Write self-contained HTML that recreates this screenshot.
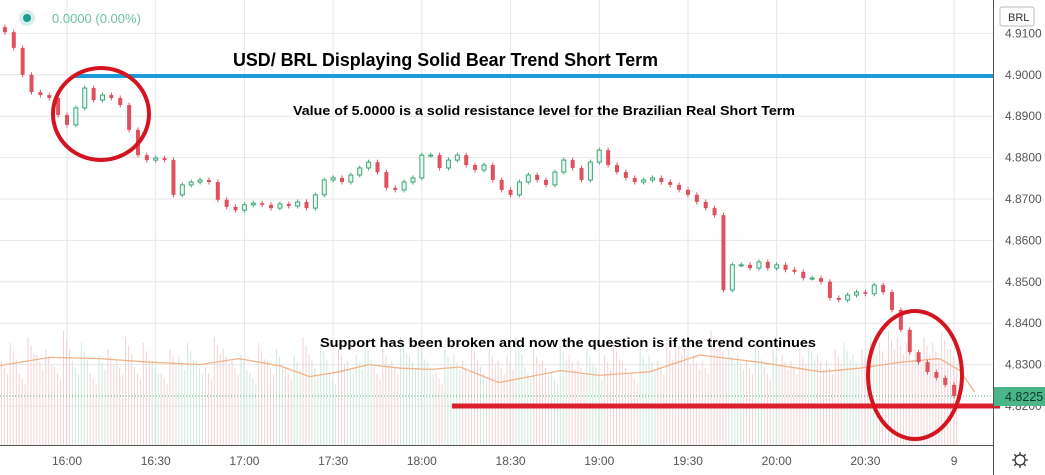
<!DOCTYPE html>
<html><head><meta charset="utf-8">
<style>
html,body{margin:0;padding:0;background:#fff;}
svg{display:block;font-family:"Liberation Sans",sans-serif;}
</style></head>
<body>
<svg id="chart" width="1045" height="475" viewBox="0 0 1045 475">
  <g id="grid"></g>
  <g id="volume"></g>
  <polyline id="ma" fill="none" stroke="#f0b48a" stroke-width="1.3"/>
  <g id="candles"></g>
  <line x1="0" y1="396" x2="993" y2="396" stroke="#4caf7d" stroke-width="1" stroke-dasharray="1,2"/>
  <line x1="75" y1="76" x2="998" y2="76" stroke="#1a9ad6" stroke-width="4"/>
  <line x1="452" y1="406" x2="1000" y2="406" stroke="#dd1f2c" stroke-width="5"/>
  <ellipse cx="101" cy="114" rx="48" ry="46" fill="none" stroke="#d4141f" stroke-width="4"/>
  <ellipse cx="915" cy="375" rx="47" ry="64" fill="none" stroke="#d4141f" stroke-width="4"/>
  <text x="233" y="66" font-size="18" font-weight="bold" textLength="425" lengthAdjust="spacingAndGlyphs">USD/ BRL Displaying Solid Bear Trend Short Term</text>
  <text x="293" y="115" font-size="13" font-weight="bold" textLength="502" lengthAdjust="spacingAndGlyphs">Value of 5.0000 is a solid resistance level for the Brazilian Real Short Term</text>
  <text x="320" y="347" font-size="13" font-weight="bold" textLength="496" lengthAdjust="spacingAndGlyphs">Support has been broken and now the question is if the trend continues</text>
  <circle cx="27" cy="18" r="8" fill="#d6f0ee"/>
  <circle cx="27" cy="18" r="4" fill="#1b9c8f"/>
  <text x="52" y="23" font-size="13" fill="#6bbfa4">0.0000 (0.00%)</text>
  <rect x="994" y="0" width="51" height="475" fill="#fff"/>
  <line x1="993.5" y1="0" x2="993.5" y2="475" stroke="#555" stroke-width="1"/>
  <line x1="0" y1="445.5" x2="993" y2="445.5" stroke="#555" stroke-width="1"/>
  <g id="yticks"></g>
  <g id="xticks"></g>
  <line x1="994" y1="406" x2="1000" y2="406" stroke="#dd1f2c" stroke-width="5"/>
  <rect x="994" y="387" width="51" height="19" fill="#4bb58a"/>
  <text x="1005" y="401" font-size="12.5" fill="#0c3d2a">4.8225</text>
  <rect x="1000" y="7" width="34" height="19" fill="#fff" stroke="#bbb" rx="2"/>
  <text x="1008" y="21" font-size="11" fill="#333">BRL</text>
  <g transform="translate(1020,460)">
    <circle r="5" fill="none" stroke="#333" stroke-width="1.3"/>
    <path d="M0,-8V-5M0,5V8M-8,0H-5M5,0H8M-5.7,-5.7L-3.5,-3.5M3.5,3.5L5.7,5.7M-5.7,5.7L-3.5,3.5M3.5,-3.5L5.7,-5.7" stroke="#333" stroke-width="1.3"/>
  </g>
</svg>
<script>
const closes = [4.9103,4.9065,4.9000,4.8958,4.8951,4.8944,4.8903,4.8879,4.8920,4.8968,4.8939,4.8951,4.8944,4.8927,4.8867,4.8806,4.8794,4.8799,4.8794,4.8710,4.8734,4.8741,4.8746,4.8741,4.8698,4.8681,4.8673,4.8686,4.8690,4.8686,4.8678,4.8688,4.8683,4.8693,4.8678,4.8710,4.8746,4.8751,4.8741,4.8758,4.8775,4.8789,4.8765,4.8727,4.8722,4.8741,4.8751,4.8806,4.8806,4.8775,4.8794,4.8806,4.8782,4.8770,4.8782,4.8746,4.8722,4.8710,4.8741,4.8758,4.8746,4.8734,4.8765,4.8794,4.8775,4.8746,4.8789,4.8818,4.8782,4.8765,4.8751,4.8741,4.8746,4.8751,4.8741,4.8734,4.8722,4.8710,4.8693,4.8678,4.8661,4.8480,4.8541,4.8541,4.8533,4.8548,4.8533,4.8541,4.8529,4.8524,4.8509,4.8509,4.8500,4.8461,4.8456,4.8468,4.8475,4.8471,4.8492,4.8475,4.8432,4.8384,4.8330,4.8306,4.8282,4.8268,4.8251,4.8224];
const firstOpen = 4.9115;
const volumes = [70,85,60,90,75,80,65,95,70,85,60,75,80,70,90,65,85,70,60,80,75,85,70,65,90,80,70,75,60,85,70,80,65,75,90,70,85,60,80,70,75,85,65,80,70,90,75,85,70,60,80,75,70,85,65,80,70,75,90,65,80,70,60,85,75,70,80,65,75,85,70,60,80,75,70,85,90,80,75,70,95,85,80,75,70,85,65,80,75,70,80,85,75,70,80,85,75,80,90,85,95,90,85,80,90,85,95,80];
const maTimes = [-23,-6,11,28,45,58,72,82,92,102,113,123,133,146,167,180,197,214,234,255,268,282,295,302,307];
const maValues = [66,73,72,69,67,72,66,57,61,67,64,63,65,52,62,58,61,75,69,61,64,69,72,62,44];
const priceTicks = ["4.9100","4.9000","4.8900","4.8800","4.8700","4.8600","4.8500","4.8400","4.8300","4.8200"];
const timeTicks = ["16:00","16:30","17:00","17:30","18:00","18:30","19:00","19:30","20:00","20:30","9"];
const startMinute = -21; // first candle, minutes from 16:00
const candleStep = 3;    // minutes per candle

const yP = p => 406 - (p - 4.82) * 4140;
const xT = m => 67 + m * 2.957;
const yV = v => 445 - v * 1.2;
const NS = "http://www.w3.org/2000/svg";
function mk(tag, attrs, parent){ const e=document.createElementNS(NS,tag); for(const k in attrs) e.setAttribute(k,attrs[k]); parent.appendChild(e); return e; }

const grid=document.getElementById('grid'), yt=document.getElementById('yticks'), xt=document.getElementById('xticks');
priceTicks.forEach(t=>{
  const y=yP(parseFloat(t));
  const l=mk('line',{x1:0,x2:993,y1:y,y2:y,stroke:'#e6e6e6','stroke-width':1},grid);
  
  
  const tx=mk('text',{x:1005,y:y+4,'font-size':12,fill:'#555'},yt);
  tx.textContent=t;
  
  
});
timeTicks.forEach((t,i)=>{
  const x=xT(i*30);
  const l=mk('line',{x1:x,x2:x,y1:0,y2:445,stroke:'#e6e6e6','stroke-width':1},grid);
  
  
  const tx=mk('text',{x:x,y:465,'font-size':12,fill:'#555','text-anchor':'middle'},xt);
  tx.textContent=t;
  
  
});

const vg=document.getElementById('volume');
volumes.forEach((v,i)=>{
  const x=xT(startMinute+i*candleStep);
  const up = closes[i] >= (i?closes[i-1]:firstOpen);
  for(let k=0;k<3;k++){
    const r=mk('rect',{x:x-1+k*3-3,y:yV(v*(1-0.08*k)),width:1,height:445-yV(v*(1-0.08*k)),fill:up?'#cfe7dc':'#f2d3d5'},vg);
    
    
  }
});
document.getElementById('ma').setAttribute('points', maTimes.map((t,i)=>xT(t)+','+yV(maValues[i])).join(' '));

const cg=document.getElementById('candles');
closes.forEach((c,i)=>{
  const o = i?closes[i-1]:firstOpen;
  const x = xT(startMinute+i*candleStep);
  const hi=Math.max(o,c)+0.0006, lo=Math.min(o,c)-0.0006;
  const up=c>=o;
  const col=up?'#3ea77b':'#e0515f';
  const w=mk('line',{x1:x,x2:x,y1:yP(hi),y2:yP(lo),stroke:col,'stroke-width':1},cg);
  
  
  const top=yP(Math.max(o,c)), bot=yP(Math.min(o,c));
  const b=mk('rect',{x:x-2,y:top,width:4,height:Math.max(1,bot-top),fill:up?'#e8f5ee':col,stroke:col,'stroke-width':up?1:0},cg);
  
  
});
</script>
</body></html>
